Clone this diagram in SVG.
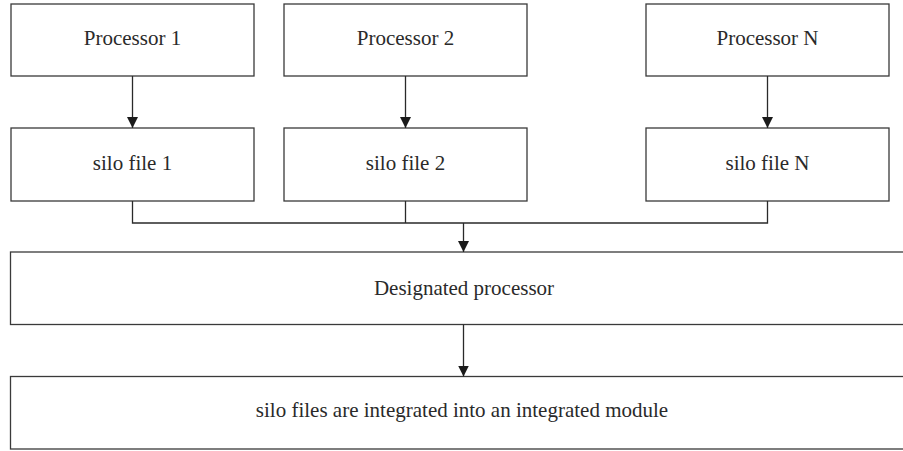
<svg xmlns="http://www.w3.org/2000/svg" width="903" height="451" viewBox="0 0 903 451">
<style>
.box{fill:#fff;stroke:#3a3a3a;stroke-width:1.3}
.lbl{font-family:"Liberation Serif","Times New Roman",serif;font-size:21px;fill:#2a2a2a;text-anchor:middle}
.con{fill:none;stroke:#2a2a2a;stroke-width:1.3}
</style>
<defs>
<marker id="ah" markerUnits="userSpaceOnUse" markerWidth="12" markerHeight="12" viewBox="0 0 12 12" refX="11" refY="6" orient="auto">
<path d="M0,0.5 L11,6 L0,11.5 Z" fill="#1a1a1a"/>
</marker>
</defs>
<rect width="903" height="451" fill="#fff"/>
<g id="p1"><rect class="box" x="11" y="4" width="243" height="72"/><text class="lbl" x="132.5" y="45">Processor 1</text></g>
<g id="p2"><rect class="box" x="284" y="4" width="243" height="72"/><text class="lbl" x="405.5" y="45">Processor 2</text></g>
<g id="pN"><rect class="box" x="646" y="4" width="243" height="72"/><text class="lbl" x="767.5" y="45">Processor N</text></g>
<g id="s1"><rect class="box" x="11" y="128" width="243" height="73"/><text class="lbl" x="132.5" y="170">silo file 1</text></g>
<g id="s2"><rect class="box" x="284" y="128" width="243" height="73"/><text class="lbl" x="405.5" y="170">silo file 2</text></g>
<g id="sN"><rect class="box" x="646" y="128" width="243" height="73"/><text class="lbl" x="767.5" y="170">silo file N</text></g>
<g id="dp"><rect class="box" x="10.5" y="252" width="900" height="72.5"/><text class="lbl" x="464" y="295">Designated processor</text></g>
<g id="im"><rect class="box" x="10.5" y="376.5" width="900" height="72.5"/><text class="lbl" x="462" y="417">silo files are integrated into an integrated module</text></g>
<g id="connectors">
<line class="con" x1="132.5" y1="76" x2="132.5" y2="128" marker-end="url(#ah)"/>
<line class="con" x1="405.5" y1="76" x2="405.5" y2="128" marker-end="url(#ah)"/>
<line class="con" x1="767.5" y1="76" x2="767.5" y2="128" marker-end="url(#ah)"/>
<polyline class="con" points="132.5,201 132.5,223 767.5,223 767.5,201"/>
<line class="con" x1="405.5" y1="201" x2="405.5" y2="223"/>
<line class="con" x1="463.5" y1="223" x2="463.5" y2="252" marker-end="url(#ah)"/>
<line class="con" x1="463.5" y1="324.5" x2="463.5" y2="376.5" marker-end="url(#ah)"/>
</g>
</svg>
